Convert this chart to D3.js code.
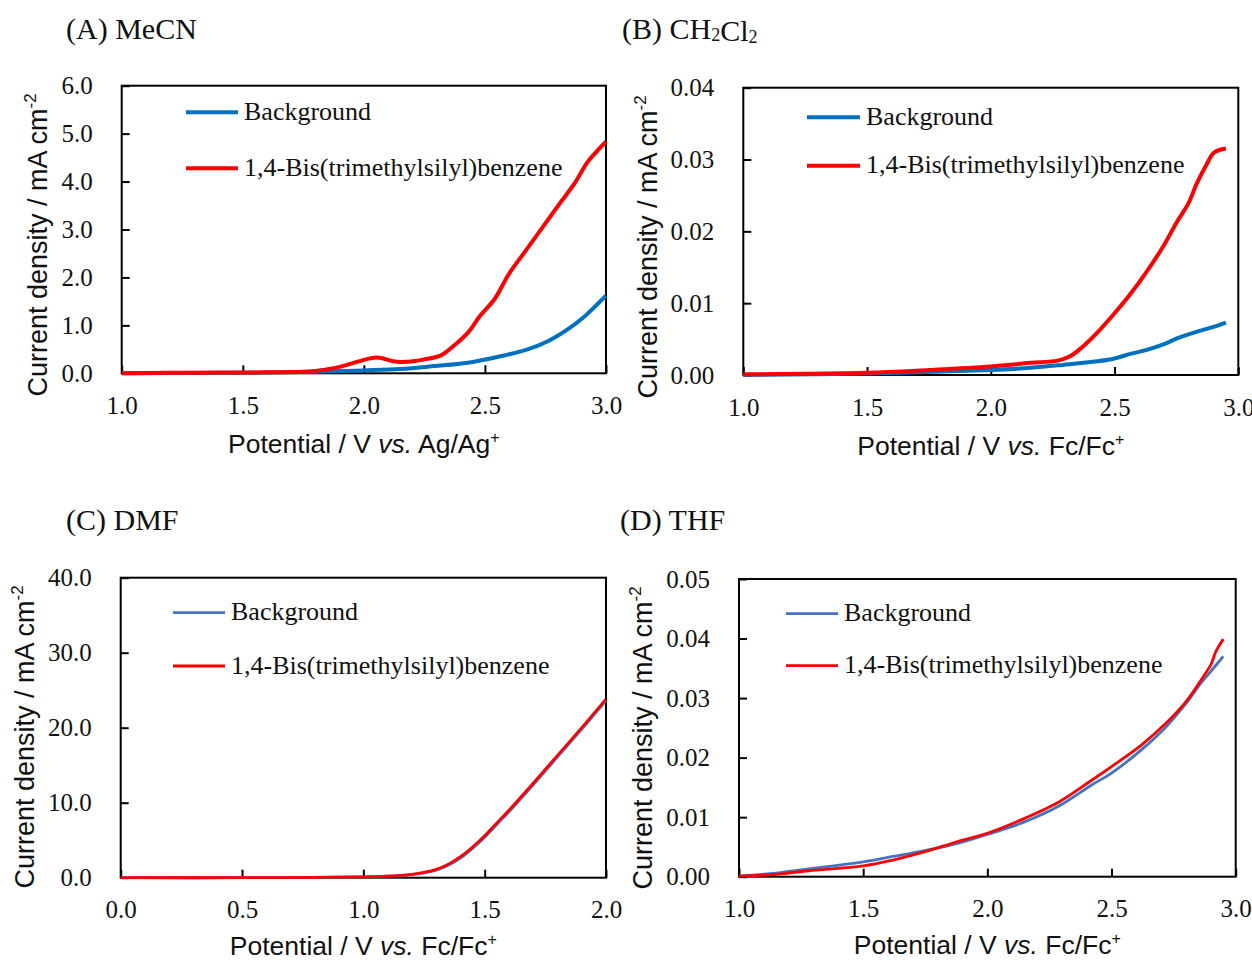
<!DOCTYPE html>
<html>
<head>
<meta charset="utf-8">
<script src="https://cdn.jsdelivr.net/npm/d3@7/dist/d3.min.js"></script>
<style>
  body { margin: 0; background: #fff; }
  svg { display: block; }
</style>
</head>
<body>
<div id="chart-area"></div>
<script>
/*
*    LSV curves, four solvents
*/

// (A) MeCN
var aBgV  = [1.0, 1.5, 1.8, 2.0, 2.15, 2.29, 2.43, 2.56, 2.67, 2.76, 2.84, 2.91, 2.96, 3.0];
var aBgJ  = [0.0, 0.01, 0.03, 0.06, 0.09, 0.15, 0.22, 0.35, 0.49, 0.67, 0.91, 1.18, 1.42, 1.62];
var aSubV = [1.0, 1.2, 1.4, 1.6, 1.75, 1.8, 1.87, 1.94, 2.0, 2.05, 2.08, 2.12, 2.18, 2.25, 2.32, 2.37, 2.43, 2.48, 2.54, 2.6, 2.67, 2.74, 2.81, 2.87, 2.92, 2.96, 3.0];
var aSubJ = [0.0, 0.01, 0.015, 0.02, 0.03, 0.05, 0.1, 0.19, 0.28, 0.33, 0.31, 0.25, 0.24, 0.29, 0.38, 0.57, 0.85, 1.2, 1.55, 2.08, 2.57, 3.06, 3.55, 3.96, 4.38, 4.62, 4.83];

// (B) CH2Cl2
var bBgV  = [1.0, 1.5, 2.0, 2.16, 2.29, 2.43, 2.5, 2.56, 2.63, 2.7, 2.76, 2.83, 2.9, 2.95];
var bBgJ  = [0.0, 0.0002, 0.0007, 0.0010, 0.0014, 0.0019, 0.0023, 0.0029, 0.0035, 0.0043, 0.0052, 0.0060, 0.0067, 0.0073];
var bSubV = [1.0, 1.5, 1.75, 2.0, 2.16, 2.27, 2.32, 2.37, 2.43, 2.5, 2.56, 2.63, 2.7, 2.75, 2.8, 2.83, 2.87, 2.9, 2.93, 2.95];
var bSubJ = [0.0001, 0.0003, 0.0007, 0.0012, 0.0017, 0.0020, 0.0026, 0.0039, 0.0059, 0.0086, 0.0111, 0.0144, 0.0181, 0.0212, 0.0240, 0.0265, 0.0292, 0.0309, 0.0314, 0.0315];

// (C) DMF
var cV    = [0.0, 0.5, 1.0, 1.1, 1.2, 1.25, 1.3, 1.35, 1.4, 1.45, 1.5, 1.55, 1.6, 1.7, 1.8, 1.9, 1.95, 2.0];
var cBgJ  = [0.0, 0.0, 0.1, 0.2, 0.42, 0.65, 1.0, 1.65, 2.6, 3.9, 5.4, 7.1, 8.8, 12.4, 16.1, 19.8, 21.7, 23.6];
var cSubJ = [0.0, 0.0, 0.1, 0.2, 0.45, 0.7, 1.1, 1.8, 2.8, 4.1, 5.6, 7.3, 9.0, 12.6, 16.3, 20.0, 21.9, 23.8];

// (D) THF
var dBgV  = [1.0, 1.15, 1.28, 1.5, 1.62, 1.75, 1.88, 2.0, 2.15, 2.29, 2.42, 2.5, 2.62, 2.72, 2.8, 2.86, 2.9, 2.95];
var dBgJ  = [0.0001, 0.0006, 0.0013, 0.0025, 0.0034, 0.0044, 0.0056, 0.0071, 0.0092, 0.0119, 0.0154, 0.0174, 0.0213, 0.0252, 0.0291, 0.0325, 0.0345, 0.0370];
var dSubV = [1.0, 1.15, 1.28, 1.5, 1.62, 1.75, 1.88, 2.0, 2.15, 2.29, 2.42, 2.5, 2.62, 2.72, 2.8, 2.86, 2.9, 2.92, 2.95];
var dSubJ = [0.0001, 0.0004, 0.0010, 0.0018, 0.0028, 0.0042, 0.0059, 0.0073, 0.0098, 0.0126, 0.0162, 0.0185, 0.0221, 0.0258, 0.0294, 0.0330, 0.0356, 0.0378, 0.0399];

// ticks
var ticks1to3 = [1.0, 1.5, 2.0, 2.5, 3.0];
var ticks0to2 = [0.0, 0.5, 1.0, 1.5, 2.0];
var aYTicks = [0, 1, 2, 3, 4, 5, 6];
var bYTicks = [0, 0.01, 0.02, 0.03, 0.04];
var cYTicks = [0, 10, 20, 30, 40];
var dYTicks = [0, 0.01, 0.02, 0.03, 0.04, 0.05];

var legendNames = ["Background", "1,4-Bis(trimethylsilyl)benzene"];

var SERIF = "'Liberation Serif', 'Times New Roman', serif";
var SANS = "'Liberation Sans', Arial, sans-serif";

var svg = d3.select("#chart-area").append("svg")
            .attr("width", 1252)
            .attr("height", 960);

function zip(xs, ys) {
  return xs.map((v, i) => { return { v: v, j: ys[i] }; });
}

function drawPanel(p) {
  var x = d3.scaleLinear().domain(p.xDomain).range([p.l, p.r]);
  var y = d3.scaleLinear().domain(p.yDomain).range([p.b, p.t]);

  var g = svg.append("g");

  // axes, ticks pointing in
  var xAxis = g.append("g")
      .attr("transform", "translate(0," + p.b + ")")
      .call(d3.axisBottom(x).tickValues(p.xTicks).tickFormat(d3.format(".1f"))
              .tickSize(-8).tickSizeOuter(0).tickPadding(23));
  var yAxis = g.append("g")
      .attr("transform", "translate(" + p.l + ",0)")
      .call(d3.axisLeft(y).tickValues(p.yTicks).tickFormat(d3.format(p.yFmt))
              .tickSize(-8).tickSizeOuter(0).tickPadding(29));

  [xAxis, yAxis].forEach((ax) => {
    ax.select(".domain").remove();
    ax.selectAll(".tick line").attr("stroke", "#000").attr("stroke-width", 2);
    ax.selectAll(".tick text")
      .attr("fill", "#111")
      .style("font-family", SERIF)
      .style("font-size", "25px");
  });

  // frame
  g.append("rect")
    .attr("x", p.l).attr("y", p.t)
    .attr("width", p.r - p.l).attr("height", p.b - p.t)
    .attr("fill", "none").attr("stroke", "#000").attr("stroke-width", 2);

  // curves
  var line = d3.line()
      .x((d) => { return x(d.v); })
      .y((d) => { return y(d.j); })
      .curve(d3.curveCatmullRom.alpha(0.5));

  p.series.forEach((s) => {
    g.append("path")
      .datum(zip(s.v, s.j))
      .attr("fill", "none")
      .attr("stroke", s.color)
      .attr("stroke-width", p.lw)
      .attr("stroke-linejoin", "round")
      .attr("d", line);
  });

  // legend
  p.series.forEach((s, i) => {
    var ly = p.legY[i];
    g.append("line")
      .attr("x1", p.legX1).attr("x2", p.legX2)
      .attr("y1", ly).attr("y2", ly)
      .attr("stroke", s.color).attr("stroke-width", p.lw);
    g.append("text")
      .attr("x", p.legX2 + 6).attr("y", ly + 7.5)
      .style("font-family", SERIF).style("font-size", "26px")
      .attr("fill", "#111")
      .text(legendNames[i]);
  });

  // title
  var t = g.append("text")
      .attr("x", p.titleX).attr("y", p.titleY)
      .style("font-family", SERIF).style("font-size", "30px")
      .attr("fill", "#111");
  p.title.forEach((part) => {
    if (part.sub) {
      t.append("tspan").attr("dy", 2).style("font-size", "18px").text(part.s);
      t.append("tspan").attr("dy", -2).text("");
    } else {
      t.append("tspan").text(part.s);
    }
  });

  // y label
  var yl = g.append("text")
      .attr("transform", "translate(" + p.ylX + "," + p.ylY + ") rotate(-90)")
      .attr("text-anchor", "middle")
      .style("font-family", SANS).style("font-size", "27px")
      .attr("fill", "#111");
  yl.append("tspan").text("Current density / mA cm");
  yl.append("tspan").attr("dy", -11).style("font-size", "17px").text("-2");

  // x label
  var xl = g.append("text")
      .attr("x", (p.l + p.r) / 2).attr("y", p.xlY)
      .attr("text-anchor", "middle")
      .style("font-family", SANS).style("font-size", "26.5px")
      .attr("fill", "#111");
  xl.append("tspan").text("Potential / V ");
  xl.append("tspan").style("font-style", "italic").text("vs.");
  xl.append("tspan").text(" " + p.ref);
  xl.append("tspan").attr("dy", -10).style("font-size", "16px").text("+");
}

var BLUE_DARK = "#0070C0", BLUE_LIGHT = "#4472C4", RED = "#FF0000";

drawPanel({
  l: 121.7, r: 606, t: 85.7, b: 373.3,
  xDomain: [1, 3], yDomain: [0, 6], xTicks: ticks1to3, yTicks: aYTicks, yFmt: ".1f",
  lw: 4,
  series: [{ v: aBgV, j: aBgJ, color: BLUE_DARK }, { v: aSubV, j: aSubJ, color: RED }],
  legX1: 186, legX2: 238, legY: [112.3, 168.3],
  title: [{ s: "(A) MeCN" }], titleX: 66, titleY: 39,
  ylX: 47, ylY: 245, xlY: 453, ref: "Ag/Ag"
});

drawPanel({
  l: 743.3, r: 1238.3, t: 87.7, b: 375,
  xDomain: [1, 3], yDomain: [0, 0.04], xTicks: ticks1to3, yTicks: bYTicks, yFmt: ".2f",
  lw: 4,
  series: [{ v: bBgV, j: bBgJ, color: BLUE_DARK }, { v: bSubV, j: bSubJ, color: RED }],
  legX1: 807, legX2: 860, legY: [117.3, 165.7],
  title: [{ s: "(B) CH" }, { s: "2", sub: true }, { s: "Cl" }, { s: "2", sub: true }], titleX: 622, titleY: 39,
  ylX: 657, ylY: 247, xlY: 455, ref: "Fc/Fc"
});

drawPanel({
  l: 120.7, r: 606, t: 577.7, b: 877.7,
  xDomain: [0, 2], yDomain: [0, 40], xTicks: ticks0to2, yTicks: cYTicks, yFmt: ".1f",
  lw: 2.8,
  series: [{ v: cV, j: cBgJ, color: BLUE_LIGHT }, { v: cV, j: cSubJ, color: RED }],
  legX1: 173, legX2: 225, legY: [612.7, 666],
  title: [{ s: "(C) DMF" }], titleX: 66, titleY: 530,
  ylX: 34, ylY: 737, xlY: 955, ref: "Fc/Fc"
});

drawPanel({
  l: 739, r: 1235.7, t: 579, b: 876.7,
  xDomain: [1, 3], yDomain: [0, 0.05], xTicks: ticks1to3, yTicks: dYTicks, yFmt: ".2f",
  lw: 2.8,
  series: [{ v: dBgV, j: dBgJ, color: BLUE_LIGHT }, { v: dSubV, j: dSubJ, color: RED }],
  legX1: 786, legX2: 838, legY: [613.7, 665.7],
  title: [{ s: "(D) THF" }], titleX: 620, titleY: 530,
  ylX: 652, ylY: 738, xlY: 954, ref: "Fc/Fc"
});
</script>
</body>
</html>
